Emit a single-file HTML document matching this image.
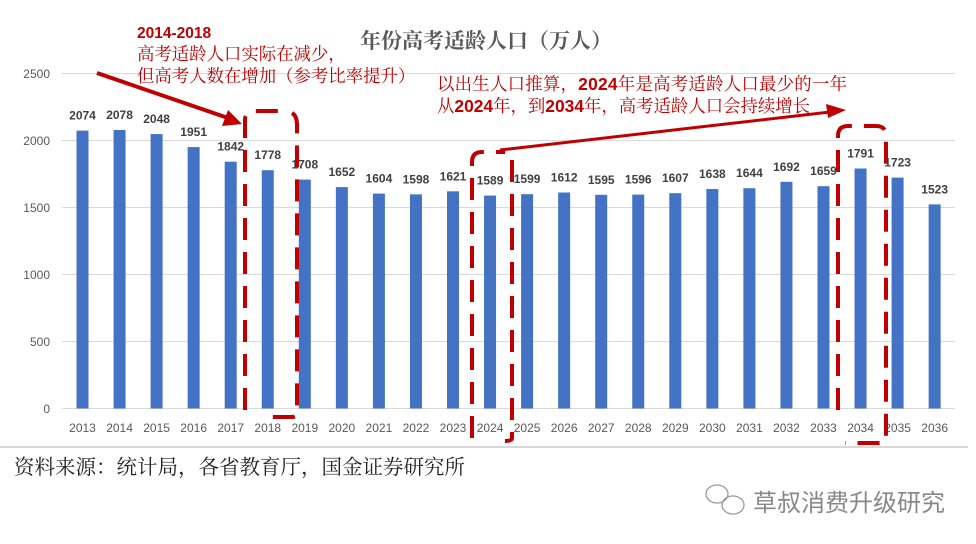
<!DOCTYPE html>
<html><head><meta charset="utf-8"><style>
body{margin:0;background:#fff}
svg{display:block;font-family:"Liberation Sans","Noto Sans CJK SC",sans-serif}
</style></head><body>
<svg width="976" height="544" viewBox="0 0 976 544">
<g stroke="#d9d9d9" stroke-width="1">
<line x1="62" y1="73.5" x2="955" y2="73.5"/>
<line x1="62" y1="140.5" x2="955" y2="140.5"/>
<line x1="62" y1="207.5" x2="955" y2="207.5"/>
<line x1="62" y1="274.5" x2="955" y2="274.5"/>
<line x1="62" y1="341.5" x2="955" y2="341.5"/>
<line x1="62" y1="408.5" x2="955" y2="408.5"/>
</g>
<line x1="0" y1="447" x2="968" y2="447" stroke="#ccc" stroke-width="1.5"/>
<g fill="#595959" font-size="12" text-anchor="end">
<text x="50" y="78">2500</text><text x="50" y="145">2000</text><text x="50" y="212">1500</text>
<text x="50" y="279">1000</text><text x="50" y="346">500</text><text x="50" y="413">0</text>
</g>
<text x="486" y="48" text-anchor="middle" font-size="21" font-weight="bold" fill="#595959" font-family="Noto Serif CJK SC,serif">年份高考适龄人口（万人）</text>
<g fill="#4472c4">
<rect x="76.5" y="130.6" width="12" height="277.9"/>
<rect x="113.55" y="130.0" width="12" height="278.5"/>
<rect x="150.6" y="134.1" width="12" height="274.4"/>
<rect x="187.65" y="147.1" width="12" height="261.4"/>
<rect x="224.7" y="161.7" width="12" height="246.8"/>
<rect x="261.75" y="170.2" width="12" height="238.3"/>
<rect x="298.8" y="179.6" width="12" height="228.9"/>
<rect x="335.85" y="187.1" width="12" height="221.4"/>
<rect x="372.9" y="193.6" width="12" height="214.9"/>
<rect x="409.95" y="194.4" width="12" height="214.1"/>
<rect x="447.0" y="191.3" width="12" height="217.2"/>
<rect x="484.05" y="195.6" width="12" height="212.9"/>
<rect x="521.1" y="194.2" width="12" height="214.3"/>
<rect x="558.15" y="192.5" width="12" height="216.0"/>
<rect x="595.2" y="194.8" width="12" height="213.7"/>
<rect x="632.25" y="194.6" width="12" height="213.9"/>
<rect x="669.3" y="193.2" width="12" height="215.3"/>
<rect x="706.35" y="189.0" width="12" height="219.5"/>
<rect x="743.4" y="188.2" width="12" height="220.3"/>
<rect x="780.45" y="181.8" width="12" height="226.7"/>
<rect x="817.5" y="186.2" width="12" height="222.3"/>
<rect x="854.55" y="168.5" width="12" height="240.0"/>
<rect x="891.6" y="177.6" width="12" height="230.9"/>
<rect x="928.65" y="204.4" width="12" height="204.1"/>
</g>
<g font-size="12" font-weight="bold" fill="#404040" text-anchor="middle">
<text x="82.5" y="119.6">2074</text>
<text x="119.55" y="119">2078</text>
<text x="156.6" y="123.1">2048</text>
<text x="193.65" y="136.1">1951</text>
<text x="230.7" y="150.7">1842</text>
<text x="267.75" y="159.2">1778</text>
<text x="304.8" y="168.6">1708</text>
<text x="341.85" y="176.1">1652</text>
<text x="378.9" y="182.6">1604</text>
<text x="415.95" y="183.4">1598</text>
<text x="453.0" y="180.3">1621</text>
<text x="490.05" y="184.6">1589</text>
<text x="527.1" y="183.2">1599</text>
<text x="564.15" y="181.5">1612</text>
<text x="601.2" y="183.8">1595</text>
<text x="638.25" y="183.6">1596</text>
<text x="675.3" y="182.2">1607</text>
<text x="712.35" y="178">1638</text>
<text x="749.4" y="177.2">1644</text>
<text x="786.45" y="170.8">1692</text>
<text x="823.5" y="175.2">1659</text>
<text x="860.55" y="157.5">1791</text>
<text x="897.6" y="166.6">1723</text>
<text x="934.65" y="193.4">1523</text>
</g>
<g font-size="12" fill="#595959" text-anchor="middle">
<text x="82.5" y="432">2013</text><text x="119.55" y="432">2014</text><text x="156.6" y="432">2015</text><text x="193.65" y="432">2016</text>
<text x="230.7" y="432">2017</text><text x="267.75" y="432">2018</text><text x="304.8" y="432">2019</text><text x="341.85" y="432">2020</text>
<text x="378.9" y="432">2021</text><text x="415.95" y="432">2022</text><text x="453.0" y="432">2023</text><text x="490.05" y="432">2024</text>
<text x="527.1" y="432">2025</text><text x="564.15" y="432">2026</text><text x="601.2" y="432">2027</text><text x="638.25" y="432">2028</text>
<text x="675.3" y="432">2029</text><text x="712.35" y="432">2030</text><text x="749.4" y="432">2031</text><text x="786.45" y="432">2032</text>
<text x="823.5" y="432">2033</text><text x="860.55" y="432">2034</text><text x="897.6" y="432">2035</text><text x="934.65" y="432">2036</text>
</g>
<g fill="none" stroke="#c00000" stroke-width="4" stroke-dasharray="22,12">
<path d="M245 410 V120 Q245 111 256 111 H280 M292 113 Q297 116 297 125 V413 Q297 417 292 417 H266"/>
<path d="M472 438 V162 Q472 152 482 152 H505 M512 160 V438 Q512 441 505 441"/>
<path d="M838 410 V136 Q838 126 848 126 H876 Q886 126 886 136 V440 Q886 443 878 443 H845"/>
</g>
<g fill="#c00000" stroke="#c00000">
<line x1="97" y1="73" x2="228" y2="118" stroke-width="4"/>
<polygon points="242,124 222,126 228,110" stroke="none"/>
<line x1="500" y1="150" x2="830" y2="112" stroke-width="3"/>
<polygon points="846,110 828,118 826,104" stroke="none"/>
</g>
<g fill="#c00000" font-size="17.4" font-family="Noto Serif CJK SC,serif">
<text x="137" y="38" font-weight="bold" font-size="15.5" font-family="Liberation Sans,sans-serif">2014-2018</text>
<text x="137" y="60">高考适龄人口实际在减少，</text>
<text x="137" y="82">但高考人数在增加（参考比率提升）</text>
<text x="437" y="90" textLength="410">以出生人口推算，<tspan font-weight="bold" font-family="Liberation Sans,sans-serif">2024</tspan>年是高考适龄人口最少的一年</text>
<text x="437" y="112">从<tspan font-weight="bold" font-family="Liberation Sans,sans-serif">2024</tspan>年，到<tspan font-weight="bold" font-family="Liberation Sans,sans-serif">2034</tspan>年，高考适龄人口会持续增长</text>
</g>
<text x="14" y="474" font-size="20.5" fill="#222" font-family="Noto Serif CJK SC,serif">资料来源：统计局，各省教育厅，国金证券研究所</text>
<g fill="none" stroke="#999" stroke-width="1.3">
<ellipse cx="717" cy="494" rx="11" ry="9"/><ellipse cx="733" cy="505" rx="11" ry="9"/>
</g>
<text x="753" y="511" font-size="24" fill="#888" font-family="Noto Sans CJK SC,sans-serif">草叔消费升级研究</text>
</svg>
</body></html>
